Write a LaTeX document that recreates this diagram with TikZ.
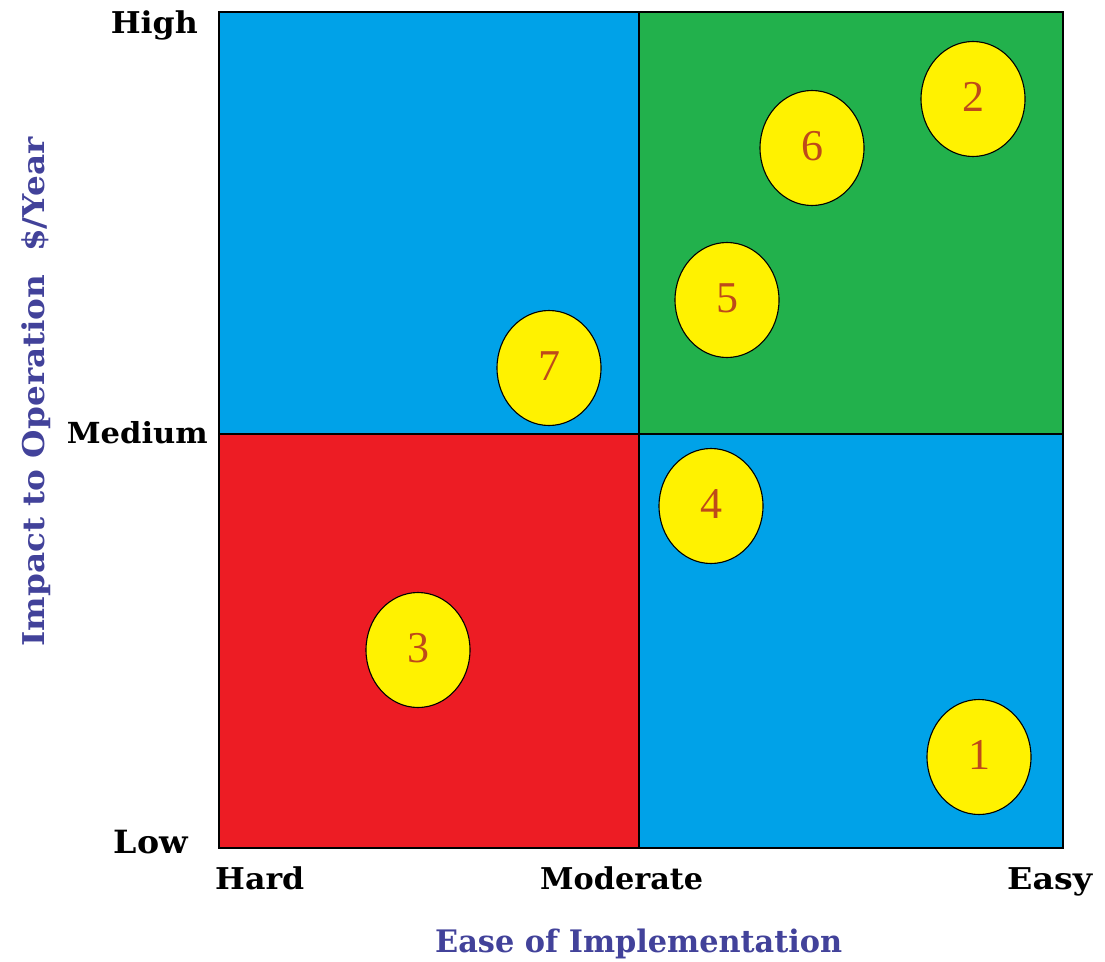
\documentclass[tikz,border=0pt]{standalone}
\usepackage{fontspec}
\setmainfont{Liberation Serif}
\newfontfamily\labfont{DejaVu Serif}
\usepackage{graphicx}
\usetikzlibrary{shapes.geometric}
\definecolor{qblue}{HTML}{00A2E8}
\definecolor{qgreen}{HTML}{22B14C}
\definecolor{qred}{HTML}{ED1C24}
\definecolor{qyellow}{HTML}{FFF200}
\definecolor{numred}{HTML}{BE4A1A}
\definecolor{axisblue}{HTML}{42429A}
\newcommand{\fitw}[2]{\resizebox{#1}{\height}{#2}}
\begin{document}
\begin{tikzpicture}[x=1pt,y=-1pt,
  quad/.style={draw=black,line width=1.8pt},
  dot/.style={ellipse,draw=black,line width=1.1pt,fill=qyellow,minimum width=104pt,minimum height=115pt,inner sep=0pt,text=numred,font=\fontsize{44}{44}\selectfont},
  lab/.style={inner sep=0pt,text=black},
  axlab/.style={inner sep=0pt,text=axisblue}]
\useasboundingbox (0,0) rectangle (1105,961);
% quadrants
\fill[qblue] (219,12) rectangle (639,434);
\fill[qgreen] (639,12) rectangle (1063,434);
\fill[qred] (219,434) rectangle (639,848);
\fill[qblue] (639,434) rectangle (1063,848);
\draw[quad] (219,12) rectangle (1063,848);
\draw[quad] (639,12) -- (639,848);
\draw[quad] (219,434) -- (1063,434);
% points
\node[dot] (p1) at (979,757) {\raisebox{4pt}{1}};
\node[dot] (p2) at (973,99) {\raisebox{4pt}{2}};
\node[dot] (p3) at (418,650) {\raisebox{4pt}{3}};
\node[dot] (p4) at (711,506) {\raisebox{4pt}{4}};
\node[dot] (p5) at (727,300) {\raisebox{4pt}{5}};
\node[dot] (p6) at (812,148) {\raisebox{4pt}{6}};
\node[dot] (p7) at (549,368) {\raisebox{4pt}{7}};
% level labels
\node[lab,anchor=base east] (high) at (198,33) {\labfont\bfseries\fontsize{30}{30}\selectfont\fitw{87pt}{High}};
\node[lab,anchor=base east] (medium) at (208,443) {\labfont\bfseries\fontsize{29}{29}\selectfont\fitw{141pt}{Medium}};
\node[lab,anchor=base east] (low) at (188,853) {\labfont\bfseries\fontsize{32}{32}\selectfont\fitw{74pt}{Low}};
\node[lab,anchor=base west] (hard) at (215,889) {\labfont\bfseries\fontsize{30}{30}\selectfont\fitw{89pt}{Hard}};
\node[lab,anchor=base west] (moderate) at (540,889) {\labfont\bfseries\fontsize{30}{30}\selectfont\fitw{163pt}{Moderate}};
\node[lab,anchor=base west] (easy) at (1007,889) {\labfont\bfseries\fontsize{30}{30}\selectfont\fitw{85pt}{Easy}};
% axis labels
\node[axlab,anchor=base west] (xlab) at (435,952) {\labfont\bfseries\fontsize{31}{31}\selectfont\fitw{407pt}{Ease of Implementation}};
\node[axlab,anchor=base,rotate=90] (ylab) at (44,392) {\labfont\bfseries\fontsize{30}{30}\selectfont\fitw{509pt}{Impact to Operation\ \ \$/Year}};
\end{tikzpicture}
\end{document}
